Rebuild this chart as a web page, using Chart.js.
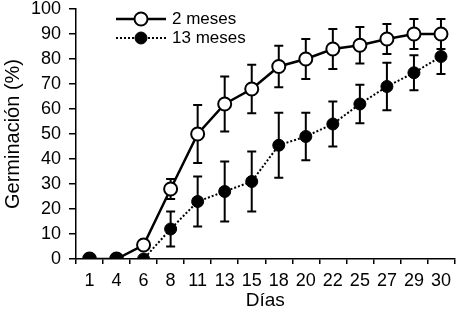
<!DOCTYPE html>
<html>
<head>
<meta charset="utf-8">
<script src="https://cdn.jsdelivr.net/npm/chart.js@4"></script>
<style>
  html, body { margin: 0; padding: 0; background: #fff; }
  #wrap { width: 463px; height: 312px; position: relative; }
</style>
</head>
<body>
<div id="wrap"><canvas id="chart"></canvas></div>
<script>
const dias = ['1', '4', '6', '8', '11', '13', '15', '18', '20', '22', '25', '27', '29', '30'];
const meses2 = [0, 0, 5.6, 28, 50, 62, 68, 77, 80, 84, 85.5, 88, 90, 90];
const meses2Err = [0, 0, 0, 4, 11.6, 11, 9.7, 8.3, 8, 8, 7.3, 6, 6, 6];
const meses13 = [0, 0, 0, 12, 23, 27, 31, 45.5, 49, 54, 62, 69, 74.5, 81];
const meses13Err = [0, 0, 0, 7, 10, 12, 12, 13, 9.5, 9, 7.7, 9.5, 7, 7];
const yTicks = [0, 10, 20, 30, 40, 50, 60, 70, 80, 90, 100];

const FONT = 'Arial, "Liberation Sans", sans-serif';

// error bars drawn under the markers
const errorBars = {
  id: 'errorBars',
  beforeDatasetsDraw(chart) {
    const ctx = chart.ctx;
    const x = chart.scales.x, y = chart.scales.y;
    const errs = [meses2Err, meses13Err];
    ctx.save();
    ctx.strokeStyle = '#000';
    ctx.lineWidth = 2;
    chart.data.datasets.forEach((ds, d) => {
      ds.data.forEach((v, i) => {
        const e = errs[d][i];
        if (!e) return;
        const px = x.getPixelForValue(i);
        const top = y.getPixelForValue(v + e);
        const bot = y.getPixelForValue(v - e);
        ctx.beginPath();
        ctx.moveTo(px, top); ctx.lineTo(px, bot);
        ctx.moveTo(px - 4.5, top); ctx.lineTo(px + 4.5, top);
        ctx.moveTo(px - 4.5, bot); ctx.lineTo(px + 4.5, bot);
        ctx.stroke();
      });
    });
    ctx.restore();
  }
};

// legend with line samples, inside the plot
const lineLegend = {
  id: 'lineLegend',
  afterDraw(chart) {
    const ctx = chart.ctx;
    const rows = [
      { ds: chart.data.datasets[0], y: 19 },
      { ds: chart.data.datasets[1], y: 38 }
    ];
    ctx.save();
    rows.forEach(r => {
      ctx.strokeStyle = '#000';
      ctx.lineWidth = r.ds.borderWidth;
      ctx.setLineDash(r.ds.borderDash || []);
      ctx.beginPath();
      ctx.moveTo(116, r.y); ctx.lineTo(166, r.y);
      ctx.stroke();
      ctx.setLineDash([]);
      ctx.beginPath();
      ctx.arc(141, r.y, r.ds.pointRadius, 0, Math.PI * 2);
      ctx.fillStyle = r.ds.pointBackgroundColor;
      ctx.fill();
      ctx.lineWidth = r.ds.pointBorderWidth;
      ctx.stroke();
      ctx.fillStyle = '#000';
      ctx.font = '17px ' + FONT;
      ctx.textBaseline = 'middle';
      ctx.fillText(r.ds.label, 172, r.y);
    });
    ctx.restore();
  }
};

new Chart(document.getElementById('chart'), {
  type: 'line',
  data: {
    labels: dias,
    datasets: [
      {
        label: '2 meses',
        data: meses2,
        borderColor: '#000',
        borderWidth: 2.5,
        pointRadius: 6.5,
        pointBackgroundColor: '#fff',
        pointBorderColor: '#000',
        pointBorderWidth: 2,
        tension: 0,
        order: 2
      },
      {
        label: '13 meses',
        data: meses13,
        borderColor: '#000',
        borderWidth: 2,
        borderDash: [2, 2],
        pointRadius: 6,
        pointBackgroundColor: '#000',
        pointBorderColor: '#000',
        pointBorderWidth: 1,
        tension: 0,
        order: 1
      }
    ]
  },
  options: {
    responsive: true,
    maintainAspectRatio: false,
    animation: false,
    layout: { padding: { top: 9, right: 4, left: 0, bottom: 0 } },
    plugins: { legend: { display: false }, tooltip: { enabled: false } },
    scales: {
      x: {
        type: 'category',
        offset: true,
        grid: { display: true, drawOnChartArea: false, offset: true, color: '#000', tickLength: 5, lineWidth: 1.5 },
        border: { display: true, color: '#000', width: 1.5 },
        ticks: { color: '#000', font: { size: 18, family: FONT }, maxRotation: 0, autoSkip: false, padding: 6 },
        title: { display: true, text: 'Días', color: '#000', font: { size: 19, family: FONT }, padding: { top: 0, bottom: 0 } },
        afterFit(s) { s.height = 53; }
      },
      y: {
        min: 0,
        max: 100,
        afterBuildTicks(s) { s.ticks = yTicks.map(v => ({ value: v })); },
        grid: { display: true, drawOnChartArea: false, color: '#000', tickLength: 7, lineWidth: 1.5 },
        border: { display: true, color: '#000', width: 1.5 },
        ticks: { color: '#000', font: { size: 18, family: FONT }, padding: 8, autoSkip: false },
        title: { display: true, text: 'Germinación (%)', color: '#000', font: { size: 20, family: FONT }, padding: { top: 1, bottom: 0 } },
        afterFit(s) { s.width = 76; s.paddingTop = 9; s.paddingBottom = 0; }
      }
    }
  },
  plugins: [errorBars, lineLegend]
});
</script>
</body>
</html>
